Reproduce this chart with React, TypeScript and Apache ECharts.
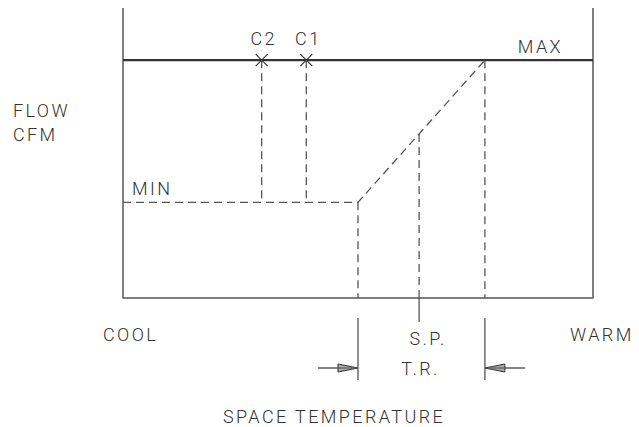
import React, { useEffect, useRef } from "react";
import * as echarts from "echarts";

// ---- data (diagram units: temperature 0..100 across, flow 0..100 up) ----
const levelNames = ["MIN", "MAX"];
const levelValues = [33, 82];
const stageNames = ["C2", "C1"];
const stageTemps = [29.5, 39];
const throttlingRange = [50, 77];
const setPointTemp = [63];
const sideLabels = ["COOL", "WARM"];
const axisTitles = ["FLOW", "CFM", "SPACE TEMPERATURE"];
const rangeLabels = ["S.P.", "T.R."];

const FONT = "Roboto";
const TEXT = "#333";
const LINE = "#555";

export default function App() {
  const ref = useRef<HTMLDivElement>(null);
  useEffect(() => {
    if (!ref.current) return;
    const chart = echarts.init(ref.current, undefined, { renderer: "svg" });
    const flowMin = levelValues[0];
    const flowMax = levelValues[1];
    const [trLow, trHigh] = throttlingRange;
    const sp = setPointTemp[0];
    const spFlow = flowMin + ((sp - trLow) / (trHigh - trLow)) * (flowMax - flowMin);
    const dash = [8, 5];
    const dashed = { color: LINE, width: 1.3, type: dash };
    const lineSeries = (name: string, data: number[][], lineStyle: any) => ({
      type: "line",
      name,
      data,
      symbol: "none",
      silent: true,
      clip: false,
      lineStyle,
    });
    const textStyle = (extra: any) => ({
      fill: TEXT,
      fontFamily: FONT,
      fontWeight: 300,
      fontSize: 18,
      ...extra,
    });

    const option: any = {
      animation: false,
      grid: { left: 123, right: 46, top: 8, bottom: 129 },
      xAxis: { type: "value", min: 0, max: 100, show: false },
      yAxis: { type: "value", min: 0, max: 100, show: false },
      series: [
        lineSeries("box", [[0, 100], [0, 0], [100, 0], [100, 100]], { color: LINE, width: 1.5 }),
        lineSeries("max", [[0, flowMax], [100, flowMax]], { color: "#333", width: 2.2 }),
        lineSeries("control", [[0, flowMin], [trLow, flowMin], [trHigh, flowMax]], dashed),
        ...stageTemps.map((t, i) => lineSeries(stageNames[i], [[t, flowMax], [t, flowMin]], dashed)),
        lineSeries("trLow", [[trLow, flowMin], [trLow, 0]], dashed),
        lineSeries("trHigh", [[trHigh, flowMax], [trHigh, 0]], dashed),
        lineSeries("sp", [[sp, spFlow], [sp, 0]], dashed),
        {
          type: "custom",
          silent: true,
          data: [[0, 0]],
          renderItem: (_p: any, api: any) => {
            const bottom = api.coord([0, 0])[1];
            const left = api.coord([0, 0])[0];
            const right = api.coord([100, 0])[0];
            const yMax = api.coord([0, flowMax])[1];
            const yMin = api.coord([0, flowMin])[1];
            const xLow = api.coord([trLow, 0])[0];
            const xHigh = api.coord([trHigh, 0])[0];
            const xSp = api.coord([sp, 0])[0];
            const solid = { stroke: LINE, lineWidth: 1.3 };
            const children: any[] = [];
            stageTemps.forEach((t, i) => {
              const [cx, cy] = api.coord([t, flowMax]);
              const s = 6;
              children.push({ type: "line", shape: { x1: cx - s, y1: cy - s, x2: cx + s, y2: cy + s }, style: { stroke: "#333", lineWidth: 1.2 } });
              children.push({ type: "line", shape: { x1: cx - s, y1: cy + s, x2: cx + s, y2: cy - s }, style: { stroke: "#333", lineWidth: 1.2 } });
              children.push({ type: "text", style: textStyle({ text: stageNames[i], x: cx + 2, y: cy - 22, align: "center", verticalAlign: "middle" }) });
            });
            children.push({ type: "text", style: textStyle({ text: levelNames[1], x: right - 30, y: yMax - 14, align: "right", verticalAlign: "middle" }) });
            children.push({ type: "text", style: textStyle({ text: levelNames[0], x: left + 9, y: yMin - 14, align: "left", verticalAlign: "middle" }) });
            // S.P. tick below box
            children.push({ type: "line", shape: { x1: xSp, y1: bottom, x2: xSp, y2: bottom + 24 }, style: solid });
            // extension lines
            [xLow, xHigh].forEach((x) => {
              children.push({ type: "line", shape: { x1: x, y1: bottom + 20, x2: x, y2: bottom + 82 }, style: solid });
            });
            // arrows
            const ay = bottom + 70;
            const arrow = (tip: number, dir: number) => {
              const base = tip - dir * 20;
              children.push({ type: "line", shape: { x1: base, y1: ay, x2: tip - dir * 40, y2: ay }, style: { stroke: "#333", lineWidth: 1.2 } });
              children.push({
                type: "polygon",
                shape: { points: [[tip, ay], [base, ay - 4], [base, ay + 4]] },
                style: { fill: "#aaa", stroke: "#333", lineWidth: 1 },
              });
              children.push({ type: "line", shape: { x1: base, y1: ay, x2: tip, y2: ay }, style: { stroke: "#555", lineWidth: 1 } });
            };
            arrow(xLow, 1);
            arrow(xHigh, -1);
            children.push({ type: "text", style: textStyle({ text: rangeLabels[0], x: xSp + 9, y: bottom + 40, align: "center", verticalAlign: "middle" }) });
            children.push({ type: "text", style: textStyle({ text: rangeLabels[1], x: (xLow + xHigh) / 2 - 1, y: ay, align: "center", verticalAlign: "middle" }) });
            return { type: "group", children };
          },
        },
      ],
      graphic: [
        { type: "text", left: 13, top: 101, style: textStyle({ text: axisTitles[0] }) },
        { type: "text", left: 13, top: 125, style: textStyle({ text: axisTitles[1] }) },
        { type: "text", left: 103, top: 325, style: textStyle({ text: sideLabels[0] }) },
        { type: "text", left: 570, top: 325, style: textStyle({ text: sideLabels[1] }) },
        { type: "text", left: 223, top: 407, style: textStyle({ text: axisTitles[2] }) },
      ],
    };
    chart.setOption(option);
    return () => chart.dispose();
  }, []);
  return (
    <>
      <style>{`#diagram text { letter-spacing: 2.4px; }`}</style>
      <div id="diagram" ref={ref} style={{ width: 639, height: 427, position: "absolute", left: 0, top: 0, background: "#fff" }} />
    </>
  );
}
